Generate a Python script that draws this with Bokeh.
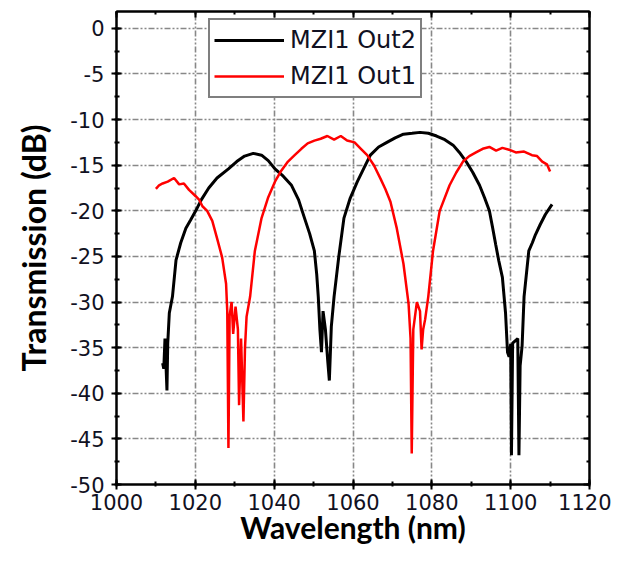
from bokeh.plotting import figure
from bokeh.models import (Range1d, SingleIntervalTicker, LinearAxis, Legend, LegendItem,
                          CustomLabelingPolicy, PrintfTickFormatter)
from bokeh.embed import file_html
from bokeh.resources import INLINE

# MZI1 Out2 (black)
out2_wl = [1011.7, 1012.0, 1012.3, 1012.8, 1013.0, 1013.4, 1014.2, 1015.1, 1016.3, 1017.6,
           1018.8, 1020.1, 1021.5, 1023.4, 1025.5, 1028.4, 1030.5, 1032.5, 1034.7, 1036.8,
           1038.5, 1040.2, 1042.3, 1044.4, 1046.2, 1047.7, 1049.0, 1050.2, 1050.8, 1051.2,
           1051.6, 1052.0, 1052.4, 1053.0, 1053.6, 1054.0, 1054.5, 1055.2, 1056.4, 1057.7,
           1059.3, 1061.1, 1062.8, 1064.4, 1066.5, 1068.6, 1070.7, 1072.8, 1075.0, 1077.0,
           1079.1, 1081.2, 1083.3, 1085.4, 1087.0, 1088.7, 1090.4, 1092.1, 1093.4, 1094.6,
           1095.4, 1096.2, 1097.0, 1097.9, 1098.7, 1099.2, 1099.6, 1100.0, 1100.2, 1100.5,
           1101.8, 1102.1, 1102.4, 1102.9, 1103.4, 1104.6, 1105.5, 1106.3, 1107.5, 1108.8,
           1110.5]
out2_db = [-36.7, -37.3, -34.0, -39.7, -34.5, -31.2, -29.4, -25.4, -23.5, -21.9,
           -21.0, -20.0, -18.8, -17.5, -16.4, -15.4, -14.6, -14.0, -13.7, -13.9,
           -14.5, -15.4, -16.2, -17.2, -18.8, -20.8, -22.5, -24.4, -27.0, -29.5,
           -33.0, -35.5, -31.0, -33.0, -36.5, -38.6, -32.7, -29.4, -25.0, -20.8,
           -18.6, -16.8, -15.3, -13.9, -13.0, -12.5, -12.0, -11.6, -11.5, -11.4,
           -11.5, -11.8, -12.2, -12.8, -13.6, -14.6, -15.8, -17.2, -18.6, -20.0,
           -21.8, -23.7, -25.5, -27.3, -31.2, -35.5, -36.0, -34.6, -46.8, -34.5,
           -34.0, -46.8, -37.0, -34.8, -29.4, -24.4, -23.5, -22.6, -21.5, -20.4,
           -19.3]

# MZI1 Out1 (red)
out1_wl = [1010.0, 1010.8, 1011.7, 1013.0, 1014.6, 1015.9, 1017.1, 1018.4, 1020.1, 1021.0,
           1021.8, 1023.0, 1024.3, 1025.5, 1026.8, 1027.8, 1028.1, 1028.4, 1028.7, 1029.2,
           1029.6, 1030.2, 1030.8, 1031.1, 1031.6, 1032.2, 1032.6, 1033.0, 1033.9, 1035.1,
           1036.8, 1038.5, 1040.2, 1041.8, 1043.5, 1045.2, 1046.9, 1048.5, 1050.2, 1051.8,
           1053.5, 1055.2, 1056.9, 1058.5, 1060.4, 1062.0, 1063.6, 1065.3, 1067.0, 1068.2,
           1069.5, 1071.1, 1072.8, 1074.1, 1074.6, 1074.9, 1075.3, 1076.2, 1077.0, 1077.4,
           1077.8, 1078.3, 1079.1, 1080.3, 1082.0, 1084.5, 1086.2, 1087.9, 1089.5, 1091.2,
           1092.9, 1094.6, 1096.3, 1097.9, 1099.6, 1101.3, 1103.4, 1105.4, 1106.7, 1108.0,
           1109.2, 1110.0]
out1_db = [-17.6, -17.2, -17.0, -16.8, -16.4, -17.1, -17.0, -17.7, -18.4, -18.8,
           -19.5, -20.0, -21.1, -23.0, -25.1, -28.0, -31.0, -46.0, -31.5, -30.0,
           -33.5, -30.5, -33.0, -41.3, -34.0, -43.1, -35.0, -31.6, -29.4, -24.4,
           -20.8, -18.5, -16.8, -15.6, -14.6, -13.9, -13.2, -12.6, -12.3, -12.1,
           -11.8, -12.2, -11.8, -12.3, -12.5, -13.2, -13.9, -15.0, -16.5, -17.6,
           -19.0, -21.9, -25.8, -30.2, -34.0, -46.6, -33.0, -30.0, -31.0, -35.2,
           -33.0, -31.9, -29.4, -24.4, -20.0, -17.2, -15.8, -14.6, -14.0, -13.6,
           -13.2, -13.0, -13.4, -13.1, -13.3, -13.6, -13.5, -13.9, -14.0, -14.6,
           -14.9, -15.7]

series_labels = ["MZI1 Out2", "MZI1 Out1"]
x_title = "Wavelength (nm)"
y_title = "Transmission (dB)"

TICK_FONT = "DejaVu Sans"
TITLE_FONT = "Lato"

p = figure(width=611, height=554, output_backend="svg", toolbar_location=None,
           x_range=Range1d(1000, 1120), y_range=Range1d(-50, 1.85),
           x_axis_location=None, y_axis_location=None,
           min_border_left=116, min_border_right=17, min_border_top=1, min_border_bottom=70)
p.background_fill_color = "white"
p.border_fill_color = "white"
p.outline_line_color = "black"
p.outline_line_width = 2

xt = SingleIntervalTicker(interval=20, num_minor_ticks=2)
yt = SingleIntervalTicker(interval=5, num_minor_ticks=2)

no_labels = CustomLabelingPolicy(code="for (const i of indices) { indices.unset(i) }\nreturn indices")

def style_axis(ax, labels=True):
    ax.axis_line_color = "black"
    ax.axis_line_width = 2
    ax.major_tick_line_color = "black"
    ax.major_tick_line_width = 2
    ax.minor_tick_line_color = "black"
    ax.minor_tick_line_width = 2
    if labels:
        ax.major_tick_in = 5
        ax.major_tick_out = 5
        ax.minor_tick_in = 3
        ax.minor_tick_out = 2
        ax.formatter = PrintfTickFormatter(format="%d")
        ax.major_label_text_font = TICK_FONT
        ax.major_label_text_font_size = "21px"
        ax.major_label_text_color = "#111122"
        ax.axis_label_text_font = TITLE_FONT
        ax.axis_label_text_font_style = "bold"
        ax.axis_label_text_font_size = "32px"
        ax.axis_label_text_color = "black"
    else:
        ax.major_tick_in = 6
        ax.major_tick_out = 0
        ax.minor_tick_in = 3
        ax.minor_tick_out = 0
        ax.major_label_policy = no_labels
        ax.major_label_standoff = 0

xb = LinearAxis(ticker=xt, axis_label=x_title)
style_axis(xb)
xb.major_label_standoff = 4
xb.axis_label_text_font_size = "30px"
xb.axis_label_standoff = -4
p.add_layout(xb, "below")

yl = LinearAxis(ticker=yt, axis_label=y_title)
style_axis(yl)
yl.major_label_standoff = 7
yl.axis_label_standoff = 14
p.add_layout(yl, "left")

xtop = LinearAxis(ticker=xt)
style_axis(xtop, labels=False)
p.add_layout(xtop, "above")

yr = LinearAxis(ticker=yt)
style_axis(yr, labels=False)
p.add_layout(yr, "right")

p.xgrid.ticker = xt
p.ygrid.ticker = yt
for g in (p.xgrid, p.ygrid):
    g.grid_line_color = "#888888"
    g.grid_line_width = 1.6
    g.grid_line_dash = "6 2 2 2 2 2"

r_black = p.line(out2_wl, out2_db, line_color="black", line_width=3)
r_red = p.line(out1_wl, out1_db, line_color="#ff0000", line_width=2.5)

legend = Legend(items=[LegendItem(label=series_labels[0], renderers=[r_black]),
                       LegendItem(label=series_labels[1], renderers=[r_red])],
                location=(92, 386))
legend.border_line_color = "black"
legend.border_line_width = 2
legend.background_fill_color = "white"
legend.background_fill_alpha = 1
legend.padding = 4
legend.spacing = 4
legend.margin = 0
legend.label_height = 32
legend.glyph_height = 32
legend.glyph_width = 70
legend.label_standoff = 6
legend.label_text_font = TICK_FONT
legend.label_text_font_size = "24px"
legend.label_text_color = "#111122"
p.add_layout(legend, "center")

open("out.html", "w").write(file_html(p, INLINE))
